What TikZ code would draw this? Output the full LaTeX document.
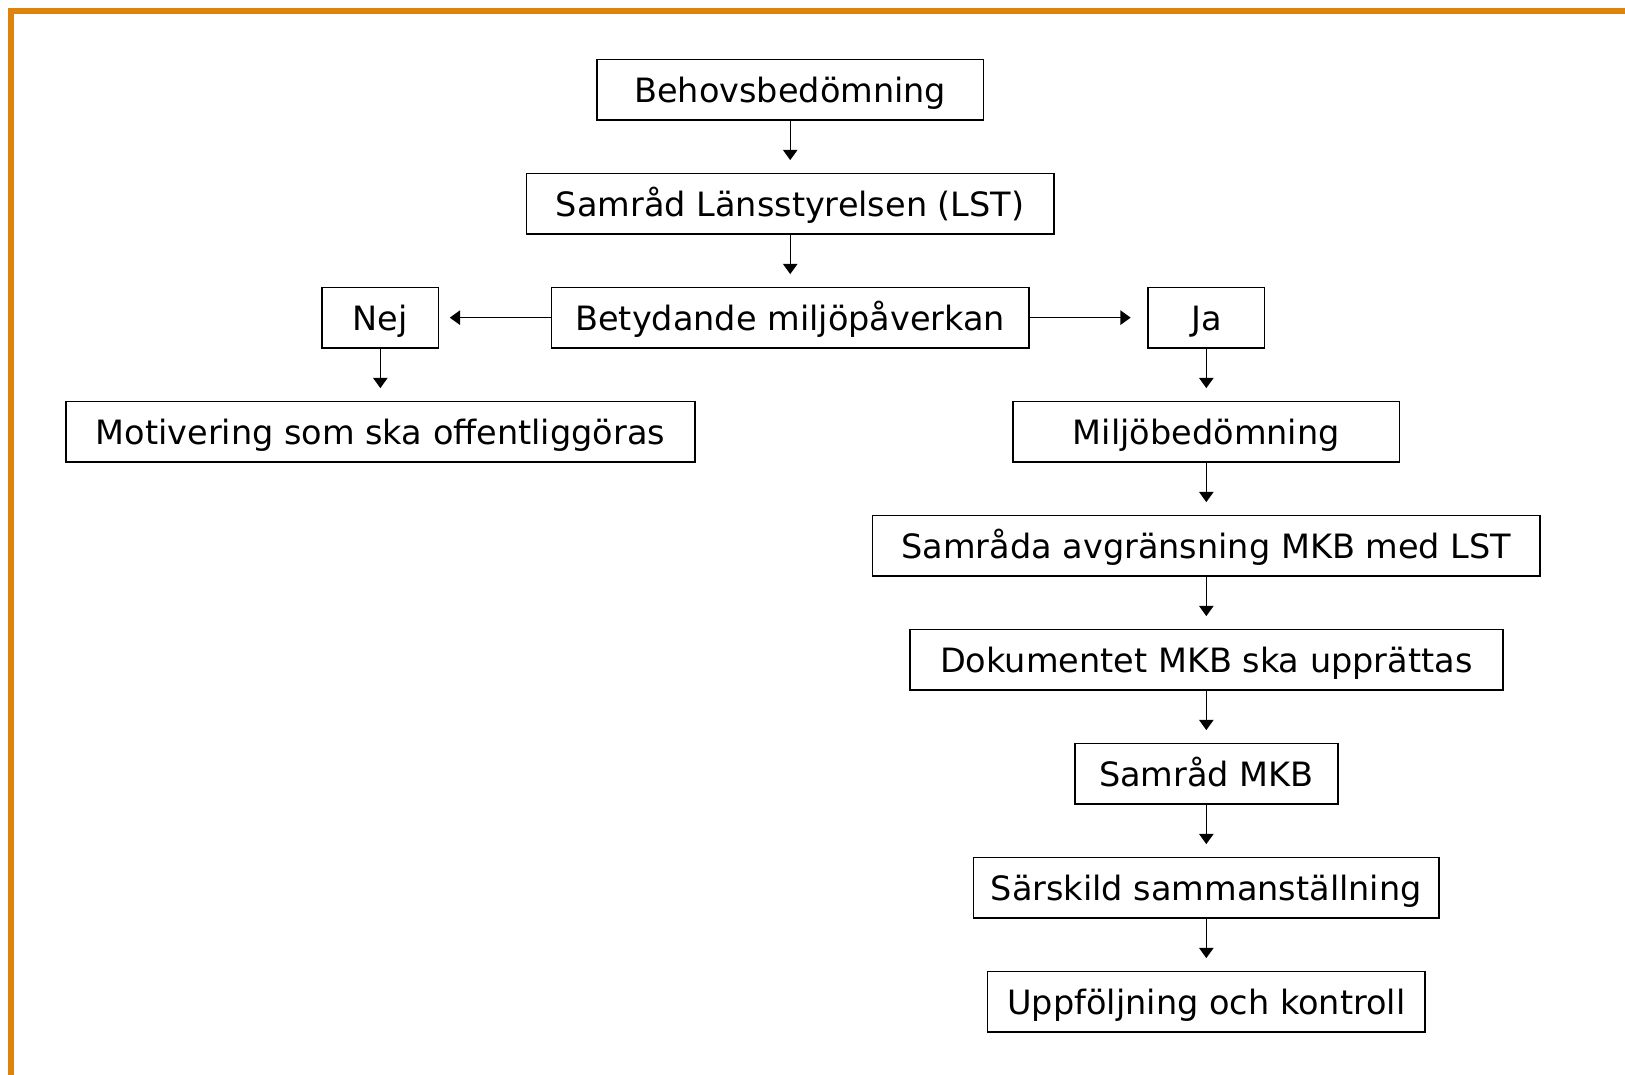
\documentclass[tikz,border=0pt]{standalone}
\usepackage{fontspec}
\setmainfont{DejaVu Sans}
\usepackage{xcolor}
\usetikzlibrary{arrows.meta,positioning}
\definecolor{frameorange}{RGB}{224,130,14}

\begin{document}
\begin{tikzpicture}[
  node distance=1.04cm and 2.2cm,
  box/.style={draw, line width=0.9pt, outer sep=0pt, align=center, minimum height=1.16cm, inner sep=0pt, text height=14.2pt, text depth=0pt, font=\fontsize{18.4}{22}\selectfont},
  arr/.style={-{Triangle[length=2mm, width=2.8mm]}, line width=0.75pt, shorten >=0.26cm}
]
\useasboundingbox (0,0) rectangle (31.36,-20.74);
% orange frame, top and left only
\draw[frameorange, line width=3.3pt] (0.212,-20.74) -- (0.212,-0.212) -- (31.36,-0.212);

\node[box, minimum width=7.46cm] (behov) at (15.25,-1.73) {Behovsbedömning};
\node[box, minimum width=10.18cm, below=of behov] (samrad) {Samråd Länsstyrelsen (LST)};
\node[box, minimum width=9.22cm, below=of samrad] (betyd) {Betydande miljöpåverkan};
\node[box, minimum width=2.24cm, left=2.18cm of betyd] (nej) {Nej};
\node[box, minimum width=2.24cm, right=2.3cm of betyd] (ja) {Ja};
\node[box, minimum width=12.14cm, below=of nej] (motiv) {Motivering som ska offentliggöras};
\node[box, minimum width=7.46cm, below=of ja] (miljo) {Miljöbedömning};
\node[box, minimum width=12.88cm, below=of miljo] (avgr) {Samråda avgränsning MKB med LST};
\node[box, minimum width=11.44cm, below=of avgr] (dokum) {Dokumentet MKB ska upprättas};
\node[box, minimum width=5.08cm, below=of dokum] (samrmkb) {Samråd MKB};
\node[box, minimum width=8.98cm, below=of samrmkb] (sarsk) {Särskild sammanställning};
\node[box, minimum width=8.44cm, below=of sarsk] (uppf) {Uppföljning och kontroll};

\draw[arr] (behov) -- (samrad);
\draw[arr] (samrad) -- (betyd);
\draw[arr, shorten >=0.22cm] (betyd) -- (nej);
\draw[arr, shorten >=0.34cm] (betyd) -- (ja);
\draw[arr] (nej) -- (motiv);
\draw[arr] (ja) -- (miljo);
\draw[arr] (miljo) -- (avgr);
\draw[arr] (avgr) -- (dokum);
\draw[arr] (dokum) -- (samrmkb);
\draw[arr] (samrmkb) -- (sarsk);
\draw[arr] (sarsk) -- (uppf);
\end{tikzpicture}
\end{document}
